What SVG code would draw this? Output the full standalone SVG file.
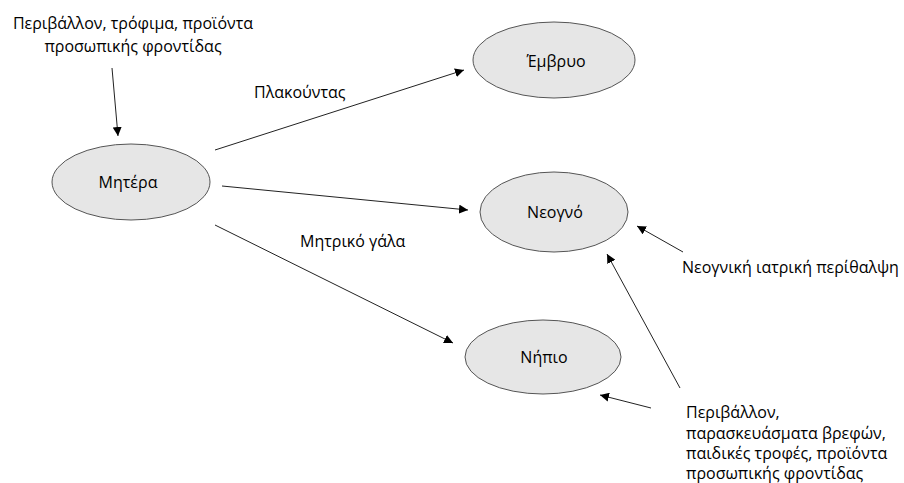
<svg xmlns="http://www.w3.org/2000/svg" width="904" height="483" viewBox="0 0 904 483">
<style>
text{font-family:"Open Sans","Liberation Sans",Arial,sans-serif;font-size:16px;fill:#000}
.n ellipse{fill:#e6e6e6;stroke:#555;stroke-width:1}
.n text{text-anchor:middle}
.c line{stroke:#222;stroke-width:1;marker-end:url(#ah)}
</style>
<defs>
<marker id="ah" viewBox="0 0 10 10" refX="10" refY="5" markerWidth="9" markerHeight="9" markerUnits="userSpaceOnUse" orient="auto">
<path d="M0,0L10,5L0,10z" fill="#000"/>
</marker>
</defs>
<rect width="904" height="483" fill="#fff"/>
<g class="c" id="connectors">
<line x1="112" y1="68" x2="118" y2="136"/>
<line x1="215" y1="150" x2="464" y2="70"/>
<line x1="222" y1="186" x2="468" y2="210"/>
<line x1="215" y1="225" x2="453" y2="343"/>
<line x1="683" y1="252" x2="637" y2="226"/>
<line x1="680" y1="388" x2="607" y2="254"/>
<line x1="651" y1="408" x2="600" y2="395"/>
</g>
<g class="n" id="mitera"><ellipse cx="131" cy="182" rx="79" ry="38"/><text x="128" y="188">Μητέρα</text></g>
<g class="n" id="emvryo"><ellipse cx="554" cy="60" rx="81" ry="38"/><text x="556" y="67">Έμβρυο</text></g>
<g class="n" id="neogno"><ellipse cx="554" cy="212" rx="74" ry="40"/><text x="555" y="218">Νεογνό</text></g>
<g class="n" id="nipio"><ellipse cx="543" cy="357" rx="78" ry="37"/><text x="544" y="363">Νήπιο</text></g>
<g id="labels">
<text x="133" y="29" text-anchor="middle">Περιβάλλον, τρόφιμα, προϊόντα</text>
<text x="133" y="52" text-anchor="middle">προσωπικής φροντίδας</text>
<text x="254" y="98">Πλακούντας</text>
<text x="300" y="247">Μητρικό γάλα</text>
<text x="682" y="273">Νεογνική ιατρική περίθαλψη</text>
<text x="686" y="418">Περιβάλλον,</text>
<text x="686" y="439">παρασκευάσματα βρεφών,</text>
<text x="686" y="459">παιδικές τροφές, προϊόντα</text>
<text x="686" y="479">προσωπικής φροντίδας</text>
</g>
</svg>
